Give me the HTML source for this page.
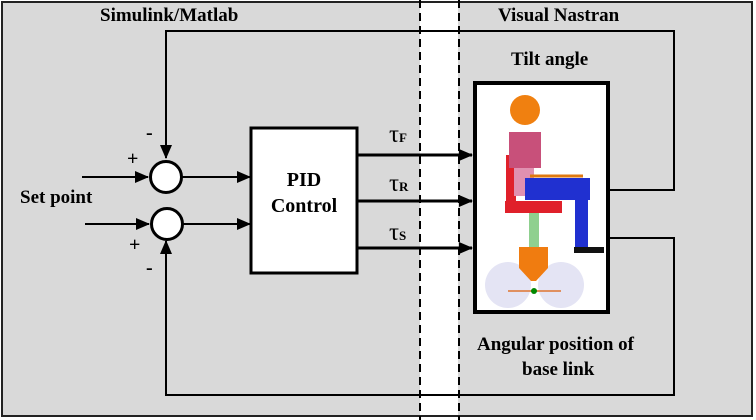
<!DOCTYPE html>
<html><head><meta charset="utf-8"><style>
html,body{margin:0;padding:0;background:#fff;}
svg{display:block;font-family:"Liberation Serif",serif;font-weight:bold;}
</style></head><body>
<svg width="756" height="420" viewBox="0 0 756 420" xmlns="http://www.w3.org/2000/svg">
<defs><marker id="b" markerWidth="14" markerHeight="12" refX="13" refY="6" orient="auto" markerUnits="userSpaceOnUse"><path d="M0,0 L14,6 L0,12 z" fill="#000"/></marker></defs>
<rect x="0" y="0" width="756" height="420" fill="#fff"/>
<rect x="2" y="2" width="750" height="414" fill="#d9d9d9" stroke="#222" stroke-width="2"/>
<rect x="420" y="3" width="38" height="412" fill="#fff"/>
<line x1="420" y1="0" x2="420" y2="420" stroke="#000" stroke-width="2" stroke-dasharray="8,5"/>
<line x1="459" y1="0" x2="459" y2="420" stroke="#000" stroke-width="2" stroke-dasharray="8,5"/>
<text x="100" y="21" font-size="19">Simulink/Matlab</text>
<text x="498" y="21" font-size="19">Visual Nastran</text>
<text x="511" y="65" font-size="19">Tilt angle</text>
<text x="477" y="350" font-size="19">Angular position of</text>
<text x="522" y="375" font-size="19">base link</text>
<text x="20" y="203" font-size="19">Set point</text>
<g fill="none" stroke="#000" stroke-width="2">
<polyline points="608,190 674,190 674,31 166,31 166,158" marker-end="url(#b)"/>
<polyline points="608,238 674,238 674,395 166,395 166,241" marker-end="url(#b)"/>
<line x1="82" y1="177" x2="148" y2="177" marker-end="url(#b)"/>
<line x1="85" y1="224" x2="149" y2="224" marker-end="url(#b)"/>
<line x1="182" y1="177" x2="250" y2="177" marker-end="url(#b)"/>
<line x1="183" y1="224" x2="250" y2="224" marker-end="url(#b)"/>
<line x1="358" y1="155" x2="472" y2="155" stroke-width="3" marker-end="url(#b)"/>
<line x1="358" y1="201" x2="472" y2="201" stroke-width="3" marker-end="url(#b)"/>
<line x1="358" y1="248" x2="472" y2="248" stroke-width="3" marker-end="url(#b)"/>
</g>
<circle cx="166" cy="177" r="15.5" fill="#fff" stroke="#000" stroke-width="3"/>
<circle cx="167" cy="224" r="15.5" fill="#fff" stroke="#000" stroke-width="3"/>
<text x="127" y="165" font-size="20">+</text>
<text x="146" y="139" font-size="20">-</text>
<text x="129" y="251" font-size="20">+</text>
<text x="146" y="274" font-size="20">-</text>
<rect x="251" y="128" width="106" height="145" fill="#fff" stroke="#000" stroke-width="3"/>
<text x="304" y="186" font-size="20" text-anchor="middle">PID</text>
<text x="304" y="212" font-size="20" text-anchor="middle">Control</text>
<text x="389" y="142" font-size="25" font-weight="normal">τ<tspan font-size="13" font-weight="bold">F</tspan></text>
<text x="389" y="191" font-size="25" font-weight="normal">τ<tspan font-size="13" font-weight="bold">R</tspan></text>
<text x="389" y="240" font-size="25" font-weight="normal">τ<tspan font-size="13" font-weight="bold">S</tspan></text>
<rect x="475" y="83" width="133" height="229" fill="#fff" stroke="#000" stroke-width="4"/>
<circle cx="508" cy="285" r="23" fill="#e4e4f4"/>
<circle cx="561" cy="285" r="23" fill="#e4e4f4"/>
<rect x="529" y="213" width="10" height="34" fill="#8fd08f"/>
<path d="M519,247 L548,247 L548,268 L536,281 L531,281 L519,268z" fill="#f07c10"/>
<line x1="508" y1="291" x2="561" y2="291" stroke="#e09060" stroke-width="2"/>
<circle cx="534" cy="291" r="3" fill="#080"/>
<rect x="506" y="155" width="10" height="55" fill="#e0202a"/>
<rect x="505" y="201" width="57" height="12" fill="#e0202a"/>
<rect x="509" y="132" width="32" height="36" fill="#c8507a"/>
<rect x="514" y="168" width="20" height="28" fill="#e090b0"/>
<rect x="525" y="178" width="65" height="22" fill="#2030d0"/>
<rect x="575" y="190" width="13" height="58" fill="#2030d0"/>
<rect x="574" y="247" width="30" height="6" fill="#111"/>
<line x1="530" y1="176" x2="583" y2="176" stroke="#e07a10" stroke-width="3"/>
<circle cx="525" cy="110" r="15" fill="#f08010"/>
</svg>
</body></html>
